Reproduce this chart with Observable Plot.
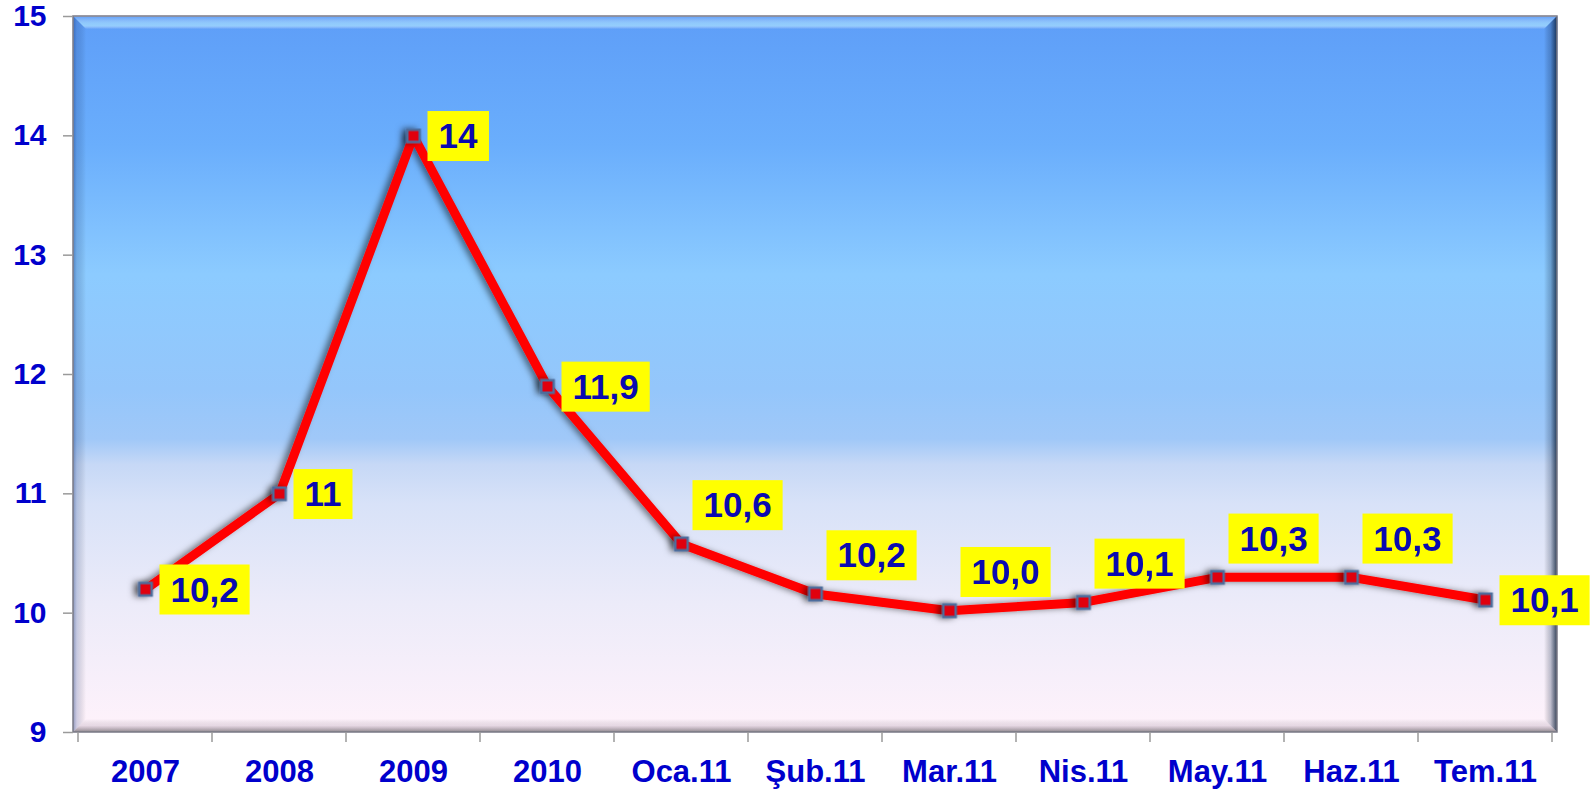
<!DOCTYPE html>
<html><head><meta charset="utf-8">
<script src="https://cdn.jsdelivr.net/npm/d3@7"></script>
<script src="https://cdn.jsdelivr.net/npm/@observablehq/plot@0.6"></script>
<style>body{margin:0;background:#fff;} svg{display:block;}</style>
</head><body><div id="chart"></div>
<script>
const categories = ["2007","2008","2009","2010","Oca.11","Şub.11","Mar.11","Nis.11","May.11","Haz.11","Tem.11"];
const values = [10.2, 11.0, 14.0, 11.9, 10.58, 10.16, 10.02, 10.09, 10.3, 10.3, 10.11];
const valueLabels = ["10,2","11","14","11,9","10,6","10,2","10,0","10,1","10,3","10,3","10,1"];
const labelPlacement = ["right","right","right","right","above","above","above","above","above","above","right"];
const yTicks = [9,10,11,12,13,14,15];
const yDomain = [9, 15];

const data = categories.map((c,i)=>({cat:c, value:values[i], label:valueLabels[i], place:labelPlacement[i]}));
const FONT = "'Liberation Sans', Arial, sans-serif";

function bevel(index, scales, vals, dims) {
  const x0 = dims.marginLeft, x1 = dims.width - dims.marginRight;
  const y0 = dims.marginTop, y1 = dims.height - dims.marginBottom;
  const b = 13;
  const g = d3.create("svg:g").attr("aria-label", "bevel");
  const poly = (pts, fill) => g.append("polygon").attr("points", pts.map(p=>p.join(",")).join(" ")).attr("fill", fill);
  poly([[x0,y0],[x1,y0],[x1-b,y0+b],[x0+b,y0+b]], "url(#bevTop)");
  poly([[x0,y0],[x0+b,y0+b],[x0+b,y1-b],[x0,y1]], "url(#bevLeft)");
  poly([[x1,y0],[x1,y1],[x1-b,y1-b],[x1-b,y0+b]], "url(#bevRight)");
  poly([[x0,y1],[x0+b,y1-b],[x1-b,y1-b],[x1,y1]], "url(#bevBottom)");
  g.append("rect").attr("x", x0).attr("y", y0).attr("width", x1-x0).attr("height", y1-y0)
    .attr("fill","none").attr("stroke","#7a7a86").attr("stroke-width",1.5);
  return g.node();
}

function xBoundaryTicks(index, scales, vals, dims) {
  const g = d3.create("svg:g").attr("stroke", "#9a9a9a").attr("stroke-width", 1.5);
  const x = scales.x;
  const bw = x.bandwidth ? x.bandwidth() : 0;
  const y1 = dims.height - dims.marginBottom;
  const edges = categories.map(c => x(c)).concat([x(categories[categories.length-1]) + bw]);
  edges.forEach(e => g.append("line").attr("x1", e).attr("x2", e).attr("y1", y1).attr("y2", y1 + 10));
  return g.node();
}

const labelStyle = {
  x: "cat", y: "value", text: "label",
  fontSize: 35, fontWeight: "bold", fill: "#0a0ab0", fontFamily: FONT,
  textAnchor: "start"
};

const plot = Plot.plot({
  width: 1594,
  height: 794,
  marginLeft: 73,
  marginRight: 37,
  marginTop: 16,
  marginBottom: 62,
  style: {fontFamily: FONT, background: "white", overflow: "visible"},
  x: {type: "band", domain: categories, padding: 0, label: null},
  y: {domain: yDomain, label: null},
  marks: [
    Plot.frame({fill: "url(#bgGrad)", stroke: "none"}),
    bevel,
    Plot.axisY({ticks: yTicks, tickSize: 10, tickPadding: 17, stroke: "#9a9a9a", strokeWidth: 1.5,
      fill: "#0000cc", fontSize: 30, fontWeight: "bold", tickFormat: d => String(d), label: null}),
    Plot.axisX({tickSize: 0, tickPadding: 27, fill: "#0000cc", fontSize: 31, fontWeight: "bold", label: null}),
    xBoundaryTicks,
    Plot.line(data, {x: "cat", y: "value", stroke: "#ff0000", strokeWidth: 9, strokeLinejoin: "round"}),
    Plot.dot(data, {x: "cat", y: "value", symbol: "square", r: 7, fill: "#e00010", stroke: "#4d6d9c", strokeWidth: 2.5}),
    Plot.text(data.filter(d => d.place === "right"), {...labelStyle, dx: 25, dy: 1}),
    Plot.text(data.filter(d => d.place === "above"), {...labelStyle, dx: 22, dy: -38})
  ]
});

document.getElementById("chart").appendChild(plot);
const svg = d3.select(plot);

const defs = svg.insert("defs", ":first-child");
const grad = (id, x2, y2, stops) => {
  const lg = defs.append("linearGradient").attr("id", id).attr("x1",0).attr("y1",0).attr("x2",x2).attr("y2",y2);
  stops.forEach(([o, c, op]) => lg.append("stop").attr("offset", o).attr("stop-color", c).attr("stop-opacity", op ?? 1));
};
grad("bgGrad", 0, 1, [
  [0, "#5e9ef8"], [0.18, "#6aaefc"], [0.36, "#8ccbff"], [0.52, "#94c6fb"], [0.59, "#a0c8f8"],
  [0.625, "#c6d8f6"], [0.68, "#d8e2f8"], [0.82, "#ecebf9"], [1, "#fff2fb"]
]);
grad("bevTop", 0, 1, [[0, "#ffffff", 0], [0.55, "#b8ecff", 0.55], [0.75, "#b8ecff", 0.6], [1, "#ffffff", 0]]);
grad("bevLeft", 1, 0, [[0, "#0a2a70", 0.45], [0.3, "#1a3a80", 0.2], [1, "#000000", 0]]);
grad("bevRight", 1, 0, [[0, "#000000", 0], [0.5, "#0a2040", 0.25], [1, "#061830", 0.8]]);
grad("bevBottom", 0, 1, [[0, "#000000", 0], [0.5, "#604860", 0.15], [1, "#303030", 0.55]]);

const f1 = defs.append("filter").attr("id", "frameShadow").attr("x", "-5%").attr("y", "-10%").attr("width", "110%").attr("height", "120%");
f1.append("feDropShadow").attr("dx", 3).attr("dy", -4).attr("stdDeviation", 4).attr("flood-color", "#000").attr("flood-opacity", 0.5);
const f2 = defs.append("filter").attr("id", "lineShadow").attr("x", "-10%").attr("y", "-10%").attr("width", "120%").attr("height", "120%");
f2.append("feDropShadow").attr("dx", -4).attr("dy", 0).attr("stdDeviation", 3).attr("flood-color", "#000").attr("flood-opacity", 0.5);

svg.selectAll('g[aria-label="frame"]').attr("filter", "url(#frameShadow)");
svg.selectAll('g[aria-label="line"], g[aria-label="dot"]').attr("filter", "url(#lineShadow)");

// yellow boxes behind value labels
svg.selectAll('g[aria-label="text"] text').each(function() {
  const bb = this.getBBox();
  const padX = 11, padY = 6;
  const tr = this.getAttribute("transform");
  const r = d3.select(this.parentNode).insert("rect", () => this)
    .attr("x", bb.x - padX).attr("y", bb.y - padY + 1)
    .attr("width", bb.width + 2*padX).attr("height", bb.height + 2*padY - 1)
    .attr("fill", "#ffff00");
  if (tr) r.attr("transform", tr);
});
</script></body></html>
